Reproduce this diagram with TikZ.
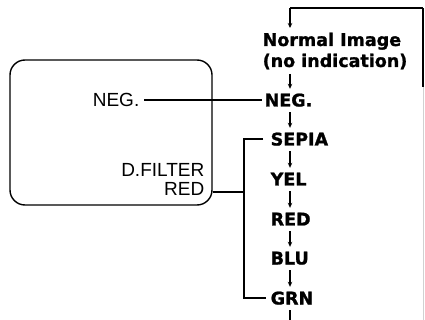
\documentclass[tikz,border=0pt]{standalone}
\usepackage{fontspec}
\setmainfont{Liberation Sans}
\newfontfamily\heavy{DejaVu Sans Bold}[FakeBold=1.2]
\usetikzlibrary{arrows.meta}
\begin{document}
\begin{tikzpicture}[x=1pt,y=-1pt,line width=1.4pt,
  item/.style={anchor=west,inner sep=2pt,text height=13pt,text depth=0pt,font=\heavy\fontsize{17.5}{20}\selectfont},
  lbl/.style={inner sep=0pt,font=\fontsize{19}{19}\selectfont},
  arr/.style={line width=1.1pt,shorten <=3pt,shorten >=2pt,-{Stealth[length=5pt,width=4.5pt]}},
  panel/.style={draw,rounded corners=15pt,minimum width=202pt,minimum height=145pt,inner sep=0pt}]
\useasboundingbox (0,0) rectangle (425,320);
% panel
\node[panel] (box) at (111,132.5) {};
\node[lbl,anchor=east] (lneg) at (140,100) {NEG.};
\node[lbl,anchor=base east] (dfil) at (205,177) {D.FILTER};
\node[lbl,anchor=base east] (dred) at (205,196) {RED};
% right column
\node[item,inner sep=0pt,anchor=west,align=left,text height=, text depth=] (normal) at (262,51) {Normal Image\\[1pt](no indication)};
\node[item] (neg) at (262,100) {NEG.};
\node[item] (sepia) at (268,139) {SEPIA};
\node[item] (yel) at (268,179) {YEL};
\node[item] (red) at (268,219) {RED};
\node[item] (blu) at (268,258) {BLU};
\node[item] (grn) at (268,298) {GRN};
\coordinate (ax) at (290,0);
\coordinate (tr) at (423,8);
\coordinate (rm) at (423,87);
\coordinate (rb) at (423,320);
\coordinate (bot) at (290,320);
\coordinate (bx) at (244,192);
% loop
\draw[line width=1.1pt] (rm) -- (tr);
\draw[line width=0.7pt,black!18] (rm) -- (rb);
\draw[line width=1.1pt] (tr) -- (tr -| ax);
\draw[arr,shorten <=0pt] (tr -| ax) -- ([yshift=2pt]normal.north -| ax);
\draw[line width=1.1pt,shorten <=3pt] (grn.south -| ax) -- (bot);
% column arrows
\draw[arr] ([yshift=-1pt]normal.south -| ax) -- (neg.north -| ax);
\draw[arr] (neg.south -| ax) -- (sepia.north -| ax);
\draw[arr] (sepia.south -| ax) -- (yel.north -| ax);
\draw[arr] (yel.south -| ax) -- (red.north -| ax);
\draw[arr] (red.south -| ax) -- (blu.north -| ax);
\draw[arr] (blu.south -| ax) -- (grn.north -| ax);
% connectors
\draw ([xshift=4pt]lneg.east) -- (neg.west);
\draw (box.east |- bx) -- (bx);
\draw ([xshift=-5pt]sepia.west) -| (bx) |- ([xshift=-2pt]grn.west);
\end{tikzpicture}
\end{document}
